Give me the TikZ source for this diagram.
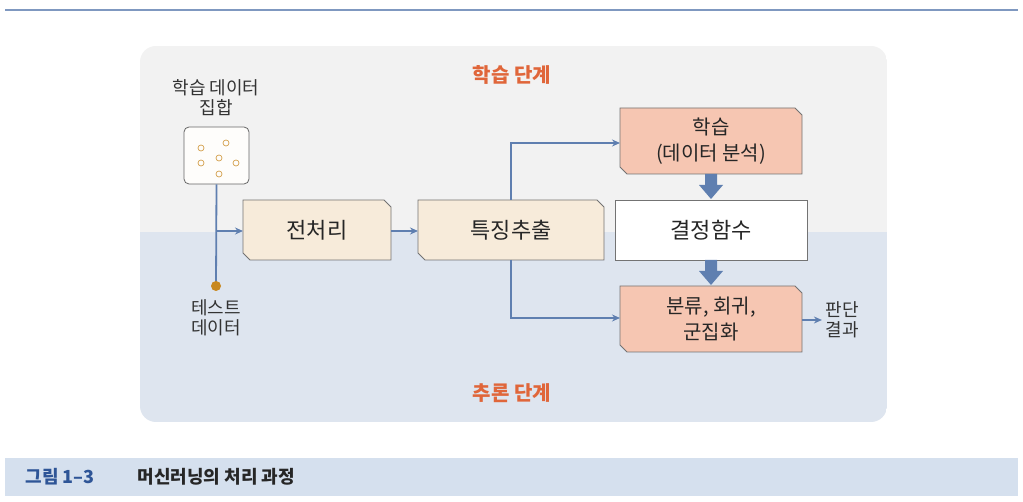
\documentclass[tikz,border=0pt]{standalone}
\usepackage{fontspec}
\setmainfont{Noto Sans CJK KR}
\usetikzlibrary{arrows.meta}
\definecolor{lineblue}{HTML}{5F7FB0}
\definecolor{orangetxt}{HTML}{E0663A}
\definecolor{cream}{HTML}{F7EBDA}
\definecolor{salmon}{HTML}{F6C6B2}
\definecolor{topgray}{HTML}{F2F2F2}
\definecolor{botblue}{HTML}{DEE5EF}
\definecolor{capbar}{HTML}{D5E0EE}
\definecolor{capblue}{HTML}{2E5597}
\definecolor{dotc}{HTML}{C8881F}
\tikzset{
  conn/.style={draw=lineblue,line width=1.8pt,-{Stealth[length=8pt,width=7pt]}},
  fat/.style={draw=none,fill=lineblue},
  lbl/.style={font=\fontsize{18}{20}\selectfont,align=center,text=black!80},
  boxtxt/.style={font=\fontsize{22}{26}\selectfont,align=center,text=black!85},
}
\newcommand{\chbox}[6]{% x1 y1 x2 y2 fill name
  \fill[#5,draw=black!55,line width=0.8pt] (#1,#2) -- (#3-7,#2) -- (#3,#2+7) -- (#3,#4) -- (#1+7,#4) -- (#1,#4-7) -- cycle;
  \coordinate (#6) at ({(#1+#3)/2},{(#2+#4)/2});}
\begin{document}
\begin{tikzpicture}[x=1pt,y=-1pt]
\useasboundingbox (0,0) rectangle (1023,502);
\fill[white] (0,0) rectangle (1023,502);
\draw[lineblue!80,line width=2pt] (5,10) -- (1018,10);
% panel
\begin{scope}
\clip[rounded corners=16pt] (140,46) rectangle (887,422);
\fill[topgray] (140,46) rectangle (887,232);
\fill[botblue] (140,232) rectangle (887,422);
\end{scope}
\node[font=\bfseries\fontsize{20}{24}\selectfont,text=orangetxt] (lt) at (512,75) {학습 단계};
\node[font=\bfseries\fontsize{20}{24}\selectfont,text=orangetxt] (it) at (512,393) {추론 단계};
% dataset
\node[lbl] (dsl) at (216,98) {학습 데이터\\집합};
\node[draw=black!60,fill=white!90!cream,rounded corners=5pt,minimum width=65pt,minimum height=57pt,line width=0.8pt] (ds) at (216.5,155.5) {};
\foreach \p in {(201,148),(226,143),(201,163),(219,158),(236,163),(219,174)}
  \draw[dotc!80,line width=0.7pt] \p circle (3pt);
\coordinate (dot) at (216,286);
\draw[lineblue,line width=1.8pt] (ds.south) -- (dot);
\fill[dotc] (dot) circle (5pt);
\node[lbl] (tl) at (216,318) {테스트\\데이터};
% boxes
\chbox{243}{200}{391}{260}{cream}{pre}
\node[boxtxt] at (pre) {전처리};
\chbox{418}{200}{604}{260}{cream}{feat}
\node[boxtxt] at (feat) {특징추출};
\chbox{620}{108}{802}{174}{salmon}{learn}
\node[boxtxt,font=\fontsize{20}{26}\selectfont] at (learn) {학습\\(데이터 분석)};
\node[draw=black!55,fill=white,line width=0.8pt,minimum width=192pt,minimum height=60pt] (dec) at (711,230) {};
\node[boxtxt] at (dec) {결정함수};
\chbox{620}{286}{802}{352}{salmon}{cls}
\node[boxtxt,font=\fontsize{20}{26}\selectfont] at (cls) {분류, 회귀,\\군집화};
\node[lbl] (res) at (842,320) {판단\\결과};
% connectors
\coordinate (j) at (216,231);
\draw[conn] (j) -- (243,231);
\draw[conn] (391,231) -- (418,231);
\draw[conn] (511,200) |- (620,143);
\draw[conn] (511,260) |- (620,318);
\draw[conn,line width=1.3pt] (802,320) -- (res.west);
% fat arrows
\fill[fat] (705,174) -- (717,174) -- (717,185) -- (723,185) -- (711,199) -- (699,185) -- (705,185) -- cycle;
\fill[fat] (705,260) -- (717,260) -- (717,271) -- (723,271) -- (711,285) -- (699,271) -- (705,271) -- cycle;
% caption
\fill[capbar] (5,458) rectangle (1018,496);
\node[anchor=west,font=\bfseries\fontsize{18}{22}\selectfont,text=capblue] (cn) at (22,477) {그림 1–3};
\node[anchor=west,font=\bfseries\fontsize{18}{22}\selectfont,text=black!85] (ct) at (134,477) {머신러닝의 처리 과정};
\end{tikzpicture}
\end{document}
